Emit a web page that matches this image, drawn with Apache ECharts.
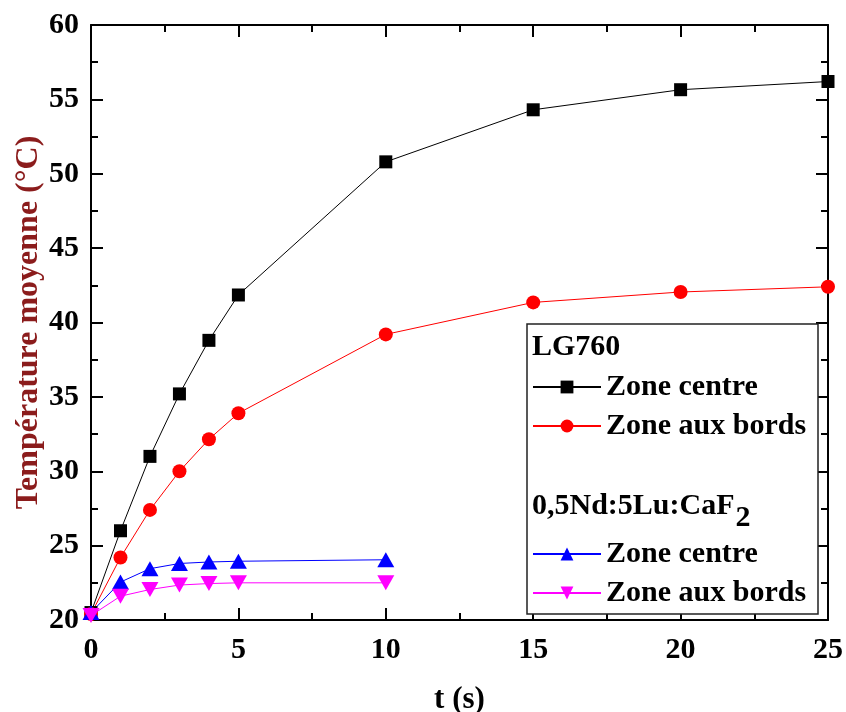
<!DOCTYPE html>
<html>
<head>
<meta charset="utf-8">
<script src="https://cdn.jsdelivr.net/npm/echarts@6/dist/echarts.min.js"></script>
<style>html,body{margin:0;padding:0;background:#fff}#c{width:846px;height:712px}</style>
</head>
<body>
<div id="c"></div>
<script>
// ---- data ----
const tLG = [0, 1, 2, 3, 4, 5, 10, 15, 20, 25];
const lgCentre = [20.5, 26.0, 31.0, 35.2, 38.8, 41.85, 50.8, 54.3, 55.65, 56.2];
const lgBords = [20.4, 24.2, 27.4, 30.0, 32.15, 33.9, 39.2, 41.35, 42.05, 42.4];
const tCaF = [0, 1, 2, 3, 4, 5, 10];
const cafCentre = [20.5, 22.55, 23.45, 23.8, 23.9, 23.95, 24.05];
const cafBords = [20.3, 21.6, 22.05, 22.35, 22.45, 22.5, 22.5];
const xTicks = [0, 5, 10, 15, 20, 25];
const yTicks = [20, 25, 30, 35, 40, 45, 50, 55, 60];
const heading1 = 'LG760';
const heading2 = '0,5Nd:5Lu:CaF';
const heading2Sub = '2';
const xTitle = 't (s)';
const yTitle = 'Température moyenne (°C)';

const FONT = '"Liberation Serif", "Times New Roman", serif';
const pair = (xs, ys) => xs.map((x, i) => [x, ys[i]]);

const chart = echarts.init(document.getElementById('c'), null, {renderer: 'canvas'});

const axisCommon = {
  type: 'value',
  axisLine: {show: true, onZero: false, lineStyle: {color: '#000', width: 2}},
  axisTick: {show: true, inside: true, length: 12, lineStyle: {color: '#000', width: 2}},
  minorTick: {show: true, splitNumber: 2, length: 7, lineStyle: {color: '#000', width: 2}},
  splitLine: {show: false},
  minorSplitLine: {show: false}
};

// measure heading width for subscript placement
const ctx = document.createElement('canvas').getContext('2d');
ctx.font = 'bold 30px ' + FONT;
const h2w = ctx.measureText(heading2).width;

const legText = {fontFamily: FONT, fontWeight: 'bold', fontSize: 30, color: '#000', lineHeight: 30};

const option = {
  animation: false,
  backgroundColor: '#fff',
  grid: {left: 91, right: 18, top: 25, bottom: 92, containLabel: false, outerBoundsMode: 'none'},
  xAxis: [
    Object.assign({}, axisCommon, {
      position: 'bottom', min: xTicks[0], max: xTicks[xTicks.length - 1], interval: 5,
      name: xTitle, nameLocation: 'middle', nameGap: 64,
      nameTextStyle: {fontFamily: FONT, fontWeight: 'bold', fontSize: 31, color: '#000'},
      axisLabel: {show: true, margin: 15, fontFamily: FONT, fontWeight: 'bold', fontSize: 30, color: '#000'}
    }),
    Object.assign({}, axisCommon, {
      position: 'top', min: xTicks[0], max: xTicks[xTicks.length - 1], interval: 5,
      axisLabel: {show: false}
    })
  ],
  yAxis: [
    Object.assign({}, axisCommon, {
      position: 'left', min: yTicks[0], max: yTicks[yTicks.length - 1], interval: 5,
      name: yTitle, nameLocation: 'middle', nameGap: 46, nameMoveOverlap: false,
      nameTextStyle: {fontFamily: FONT, fontWeight: 'bold', fontSize: 32, color: '#8B1C1C'},
      axisLabel: {show: true, margin: 12, fontFamily: FONT, fontWeight: 'bold', fontSize: 30, color: '#000'}
    }),
    Object.assign({}, axisCommon, {
      position: 'right', min: yTicks[0], max: yTicks[yTicks.length - 1], interval: 5,
      axisLabel: {show: false}
    })
  ],
  legend: [
    {
      orient: 'vertical', left: 532, top: 372, padding: 0, itemGap: 9,
      itemWidth: 68, itemHeight: 16,
      data: ['LG760|Zone centre', 'LG760|Zone aux bords'],
      formatter: n => n.split('|')[1],
      textStyle: legText, z: 6
    },
    {
      orient: 'vertical', left: 532, top: 539, padding: 0, itemGap: 9,
      itemWidth: 68, itemHeight: 16,
      data: ['CaF|Zone centre', 'CaF|Zone aux bords'],
      formatter: n => n.split('|')[1],
      textStyle: legText, z: 6
    }
  ],
  graphic: [
    {type: 'rect', z: 3, shape: {x: 527, y: 324, width: 291, height: 290},
     style: {fill: '#fff', stroke: '#222', lineWidth: 1.5}},
    {type: 'text', z: 7, x: 532, y: 347,
     style: {text: heading1, font: 'bold 30px ' + FONT, fill: '#000', textVerticalAlign: 'middle', verticalAlign: 'middle'}},
    {type: 'text', z: 7, x: 532, y: 506,
     style: {text: heading2, font: 'bold 30px ' + FONT, fill: '#000', textVerticalAlign: 'middle', verticalAlign: 'middle'}},
    {type: 'text', z: 7, x: 532 + h2w + 1, y: 518,
     style: {text: heading2Sub, font: 'bold 30px ' + FONT, fill: '#000', textVerticalAlign: 'middle', verticalAlign: 'middle'}}
  ],
  series: [
    {name: 'LG760|Zone centre', type: 'line', data: pair(tLG, lgCentre),
     symbol: 'rect', symbolSize: 13, color: '#000', lineStyle: {width: 1, color: '#000'}, itemStyle: {color: '#000'}, z: 2},
    {name: 'LG760|Zone aux bords', type: 'line', data: pair(tLG, lgBords),
     symbol: 'circle', symbolSize: 14, color: '#ff0000', lineStyle: {width: 1, color: '#ff0000'}, itemStyle: {color: '#ff0000'}, z: 2},
    {name: 'CaF|Zone centre', type: 'line', data: pair(tCaF, cafCentre),
     symbol: 'triangle', symbolSize: [17, 15], color: '#0000ff', lineStyle: {width: 1, color: '#0000ff'}, itemStyle: {color: '#0000ff'}, z: 2},
    {name: 'CaF|Zone aux bords', type: 'line', data: pair(tCaF, cafBords),
     symbol: 'path://M0,0 L10,0 L5,9 Z', symbolSize: [17, 15], color: '#ff00ff', lineStyle: {width: 1, color: '#ff00ff'}, itemStyle: {color: '#ff00ff'}, z: 2}
  ]
};
chart.setOption(option);
</script>
</body>
</html>
